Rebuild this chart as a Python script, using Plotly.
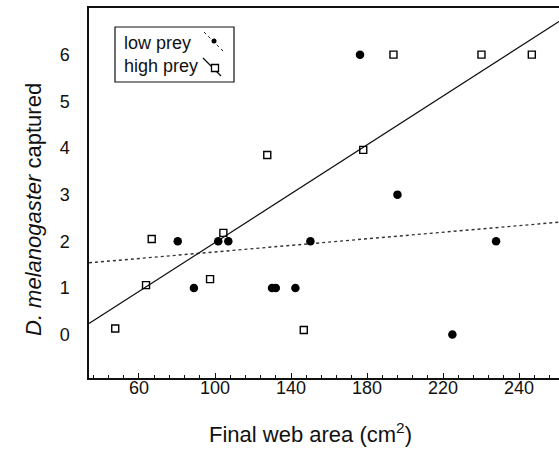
import plotly.graph_objects as go

# ---- data ----
low_x = [80.4, 88.9, 101.7, 107.0, 130.0, 132.0, 142.3, 150.2, 176.3, 196.0, 224.9, 247.9]
low_y = [2, 1, 2, 2, 1, 1, 1, 2, 6, 3, 0, 2]

high_x = [47.5, 63.7, 66.7, 97.4, 104.4, 127.5, 146.7, 178.0, 193.9, 240.2, 266.7]
high_y = [0.13, 1.06, 2.05, 1.19, 2.18, 3.85, 0.10, 3.96, 6.0, 6.0, 6.0]

# regression lines (intercept, slope)
low_fit = (1.42, 0.00352)
high_fit = (-0.646, 0.02618)

x_tickvals = [60, 100, 140, 180, 220, 260]
x_ticktext = ["60", "100", "140", "180", "220", "240"]
y_tickvals = [0, 1, 2, 3, 4, 5, 6]

x_range = [33.7, 281.0]
y_range = [-0.93, 7.0]

FONT = "Liberation Sans, Arial, Helvetica, sans-serif"

fig = go.Figure()

fx = list(x_range)
fig.add_trace(go.Scatter(x=fx, y=[low_fit[0] + low_fit[1] * v for v in fx], mode="lines",
                         line=dict(color="#333333", width=1.4, dash="dot"), showlegend=False, hoverinfo="skip"))
fig.add_trace(go.Scatter(x=fx, y=[high_fit[0] + high_fit[1] * v for v in fx], mode="lines",
                         line=dict(color="#111111", width=1.2), showlegend=False, hoverinfo="skip"))
fig.add_trace(go.Scatter(x=low_x, y=low_y, mode="markers", name="low prey",
                         marker=dict(symbol="circle", size=8.5, color="#000000"), showlegend=False))
fig.add_trace(go.Scatter(x=high_x, y=high_y, mode="markers", name="high prey",
                         marker=dict(symbol="square-open", size=7, color="#000000", line=dict(width=1.4)),
                         showlegend=False))

# plot area geometry in pixels
L, R, T, B = 89, 559, 8, 378
def px(x):
    return (x - L) / (R - L)
def py(y):
    return (B - y) / (B - T)

shapes = []
# custom legend box
shapes.append(dict(type="rect", xref="paper", yref="paper", x0=px(115), x1=px(234), y0=py(82), y1=py(27),
                   line=dict(color="#111111", width=1.2), fillcolor="white"))
shapes.append(dict(type="line", xref="paper", yref="paper", x0=px(204), y0=py(32), x1=px(223), y1=py(51),
                   line=dict(color="#222222", width=1, dash="dot")))
shapes.append(dict(type="circle", xref="paper", yref="paper", x0=px(211.5), x1=px(216.5), y0=py(43.5), y1=py(38.5),
                   fillcolor="black", line=dict(color="black", width=0)))
shapes.append(dict(type="line", xref="paper", yref="paper", x0=px(203), y0=py(58), x1=px(221), y1=py(76),
                   line=dict(color="#111111", width=1.2)))
shapes.append(dict(type="rect", xref="paper", yref="paper", x0=px(211.5), x1=px(218.5), y0=py(71.5), y1=py(64.5),
                   fillcolor="white", line=dict(color="black", width=1.3)))

annotations = [
    dict(text="low prey", xref="paper", yref="paper", x=px(122), y=py(43), xanchor="left", yanchor="middle",
         showarrow=False, font=dict(family=FONT, size=18, color="#111111")),
    dict(text="high prey", xref="paper", yref="paper", x=px(122), y=py(66), xanchor="left", yanchor="middle",
         showarrow=False, font=dict(family=FONT, size=18, color="#111111")),
    dict(text="Final web area (cm<sup>2</sup>)", xref="paper", yref="paper", x=px(310), y=py(433),
         xanchor="center", yanchor="middle", showarrow=False, font=dict(family=FONT, size=22, color="#111111")),
    dict(text="<i>D. melanogaster</i> captured", xref="paper", yref="paper", x=px(33), y=py(210),
         xanchor="center", yanchor="middle", textangle=-90, showarrow=False,
         font=dict(family=FONT, size=22, color="#111111")),
]

fig.update_layout(
    width=559, height=450,
    margin=dict(l=L, r=559 - R, t=T, b=450 - B),
    paper_bgcolor="white", plot_bgcolor="white",
    font=dict(family=FONT, color="#111111"),
    shapes=shapes, annotations=annotations,
    showlegend=False,
)
fig.update_xaxes(
    range=x_range, tickmode="array", tickvals=x_tickvals, ticktext=x_ticktext,
    ticks="inside", ticklen=5, tickwidth=1, tickcolor="#111111",
    minor=dict(tickmode="linear", tick0=60, dtick=8, ticks="inside", ticklen=3, tickwidth=1, tickcolor="#111111"),
    showline=True, linecolor="#111111", linewidth=1.5, mirror=True,
    showgrid=False, zeroline=False, tickfont=dict(size=18, family=FONT, color="#111111"),
    ticklabelstandoff=-7,
)
fig.update_yaxes(
    range=y_range, tickmode="array", tickvals=y_tickvals, ticks="",
    ticklabelstandoff=14,
    showline=True, linecolor="#111111", linewidth=1.5, mirror=False,
    showgrid=False, zeroline=False, tickfont=dict(size=18, family=FONT, color="#111111"),
)

fig.write_html("out.html", config={"displayModeBar": False},
               post_script="document.body.style.margin='0px';document.body.style.overflow='hidden';")
